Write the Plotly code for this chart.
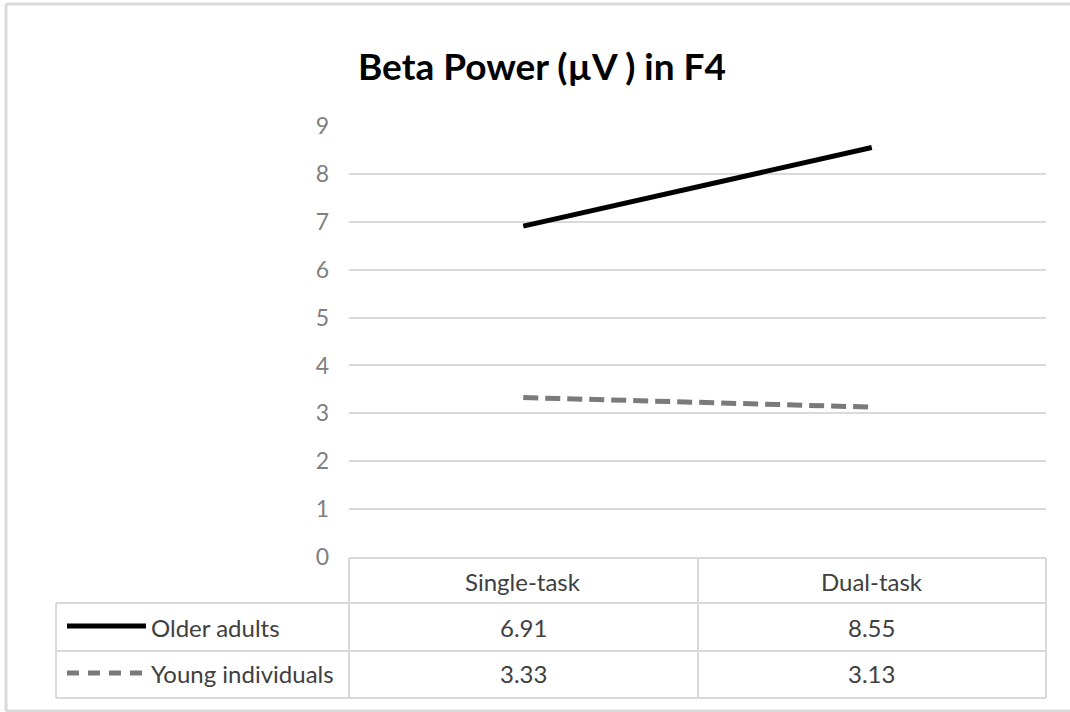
import plotly.graph_objects as go

categories = ["Single-task", "Dual-task"]
series_names = ["Older adults", "Young individuals"]
older_adults = [6.91, 8.55]
young_individuals = [3.33, 3.13]
y_ticks = [0, 1, 2, 3, 4, 5, 6, 7, 8, 9]
title_text = "Beta Power (µV ) in F4"

W, H = 1070, 712
L, R, T, B = 349, 24, 126, 155
PW = W - L - R
PH = H - T - B


def px(x):
    return (x - L) / PW


def py(y):
    return (H - B - y) / PH


FONT = "Lato"
GRID = "#d9d9d9"
TXT = "#404040"

fig = go.Figure()
fig.add_trace(go.Scatter(
    x=categories, y=older_adults, mode="lines", name=series_names[0],
    line=dict(color="#000000", width=5), showlegend=False,
))
fig.add_trace(go.Scatter(
    x=categories, y=young_individuals, mode="lines", name=series_names[1],
    line=dict(color="#7a7a7a", width=5, dash="15px,7px"), showlegend=False,
))

shapes = []
# outer frame (left, top, bottom only)
fl = dict(color=GRID, width=3)
shapes.append(dict(type="line", xref="paper", yref="paper", x0=px(6), x1=px(6), y0=py(711), y1=py(4), line=fl, layer="below"))
shapes.append(dict(type="line", xref="paper", yref="paper", x0=px(6), x1=px(1070), y0=py(4), y1=py(4), line=fl, layer="below"))
shapes.append(dict(type="line", xref="paper", yref="paper", x0=px(6), x1=px(1070), y0=py(711), y1=py(711), line=fl, layer="below"))
tl = dict(color=GRID, width=2)
shapes.append(dict(type="line", xref="paper", yref="paper", x0=px(349), x1=px(1046), y0=py(558), y1=py(558), line=tl))
for yy in [603, 651, 698]:
    shapes.append(dict(type="line", xref="paper", yref="paper", x0=px(56), x1=px(1046), y0=py(yy), y1=py(yy), line=tl))
shapes.append(dict(type="line", xref="paper", yref="paper", x0=px(56), x1=px(56), y0=py(603), y1=py(698), line=tl))
for xx in [349, 698, 1046]:
    shapes.append(dict(type="line", xref="paper", yref="paper", x0=px(xx), x1=px(xx), y0=py(558), y1=py(698), line=tl))
# legend keys
shapes.append(dict(type="line", xref="paper", yref="paper", x0=px(67), x1=px(146), y0=py(626), y1=py(626),
                   line=dict(color="#000000", width=5)))
shapes.append(dict(type="line", xref="paper", yref="paper", x0=px(67), x1=px(146), y0=py(673), y1=py(673),
                   line=dict(color="#7a7a7a", width=5, dash="12px,9px")))

annotations = []
for c in categories:
    annotations.append(dict(x=c, xref="x", y=py(581), yref="paper", text=c, showarrow=False,
                            xanchor="center", yanchor="middle", font=dict(family=FONT, size=24, color=TXT)))
rows = [older_adults, young_individuals]
row_y = [627, 673]
for name, vals, yy in zip(series_names, rows, row_y):
    annotations.append(dict(x=px(149), xref="paper", y=py(yy), yref="paper", text=name, showarrow=False,
                            xanchor="left", yanchor="middle", font=dict(family=FONT, size=24, color=TXT)))
    for c, v in zip(categories, vals):
        annotations.append(dict(x=c, xref="x", y=py(yy), yref="paper", text=f"{v:.2f}", showarrow=False,
                                xanchor="center", yanchor="middle", font=dict(family=FONT, size=24, color=TXT)))

fig.update_layout(
    width=W, height=H,
    margin=dict(l=L, r=R, t=T, b=B, pad=0),
    paper_bgcolor="white", plot_bgcolor="white",
    title=dict(text="<b>" + title_text + "</b>", x=542 / W, xanchor="center",
               y=1 - 67 / H, yanchor="middle",
               font=dict(family=FONT, size=37, color="#000000")),
    xaxis=dict(type="category", range=[-0.5, 1.5], showticklabels=False, showgrid=False,
               zeroline=False, showline=False, ticks=""),
    yaxis=dict(range=[0, 9], tickvals=y_ticks, showgrid=True, gridcolor=GRID, gridwidth=2,
               zeroline=False, showline=False, ticks="", ticklabelstandoff=19,
               tickfont=dict(family=FONT, size=23, color="#7f7f7f")),
    shapes=shapes, annotations=annotations,
)

fig.write_html("out.html", config={"displayModeBar": False},
               post_script="document.body.style.margin='0px';document.body.style.overflow='hidden';")
